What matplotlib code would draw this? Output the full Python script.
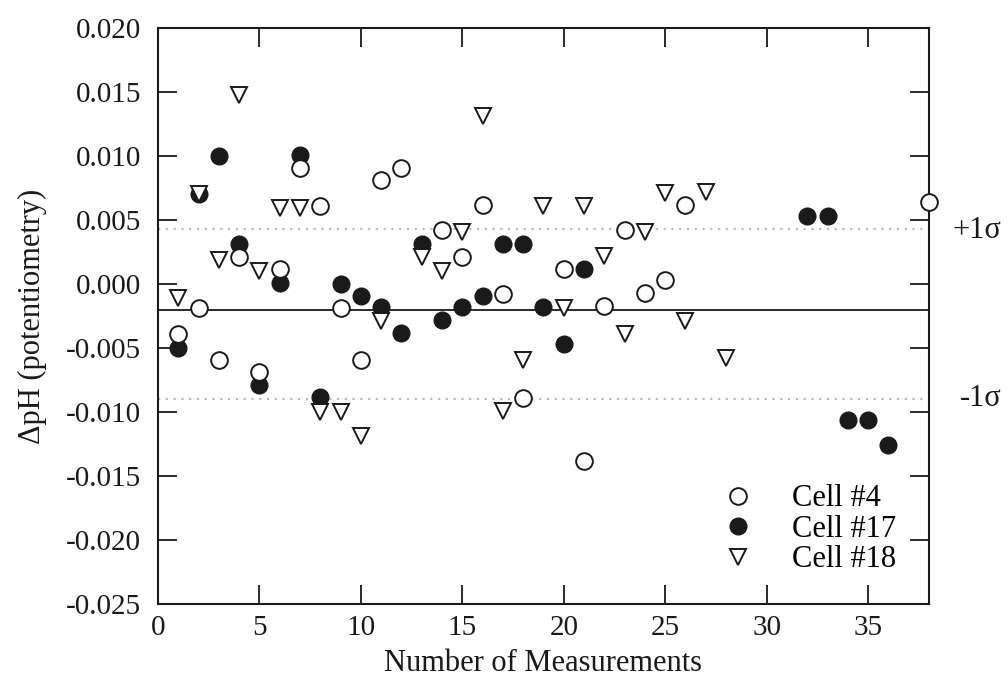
import matplotlib
matplotlib.use("Agg")
import matplotlib.pyplot as plt

cell4_x = [1, 2, 3, 4, 5, 6, 7, 8, 9, 10, 11, 12, 14, 15, 16, 17, 18, 20, 21, 22, 23, 24, 25, 26, 38]
cell4_y = [-0.0039, -0.0019, -0.0059, 0.0021, -0.0069, 0.0012, 0.0091, 0.0061, -0.0019, -0.0059,
           0.0081, 0.0091, 0.0042, 0.0021, 0.0062, -0.0008, -0.0089, 0.0012, -0.0138, -0.0017,
           0.0042, -0.0007, 0.0003, 0.0062, 0.0064]

cell17_x = [1, 2, 3, 4, 5, 6, 7, 8, 9, 10, 11, 12, 13, 14, 15, 16, 17, 18, 19, 20, 21, 32, 33, 34, 35, 36]
cell17_y = [-0.0050, 0.0070, 0.0100, 0.0031, -0.0079, 0.0001, 0.0101, -0.0088, 0.0000, -0.0009,
            -0.0018, -0.0038, 0.0031, -0.0028, -0.0018, -0.0009, 0.0031, 0.0031, -0.0018, -0.0047,
            0.0012, 0.0053, 0.0053, -0.0106, -0.0106, -0.0126]

cell18_x = [1, 2, 3, 4, 5, 6, 7, 8, 9, 10, 11, 13, 14, 15, 16, 17, 18, 19, 20, 21, 22, 23, 24, 25, 26, 27, 28]
cell18_y = [-0.0011, 0.0070, 0.0019, 0.0148, 0.0010, 0.0059, 0.0059, -0.0100, -0.0100, -0.0119,
            -0.0029, 0.0021, 0.0010, 0.0041, 0.0131, -0.0099, -0.0059, 0.0061, -0.0019, 0.0061,
            0.0022, -0.0039, 0.0041, 0.0071, -0.0029, 0.0072, -0.0058]

mean_line = -0.0020
plus_sigma = 0.0043
minus_sigma = -0.0090

xticks = [0, 5, 10, 15, 20, 25, 30, 35]
yticks = [0.020, 0.015, 0.010, 0.005, 0.000, -0.005, -0.010, -0.015, -0.020, -0.025]

# ---- figure ----
plt.rcParams['font.family'] = ['Liberation Serif', 'DejaVu Serif']
ink = '#1a1a1a'
fig = plt.figure(figsize=(10.08, 6.86), dpi=100)
ax = fig.add_axes([0.1567, 0.1195, 0.7649, 0.8397])

ax.axhline(plus_sigma, color='#bbbbbb', ls=(0, (1, 2.5)), lw=1.6, zorder=1)
ax.axhline(minus_sigma, color='#bbbbbb', ls=(0, (1, 2.5)), lw=1.6, zorder=1)
ax.axhline(mean_line, color=ink, lw=1.3, zorder=1)

ax.plot(cell17_x, cell17_y, 'o', ms=12, color=ink, mec=ink, ls='none', label='Cell #17', zorder=3)
ax.plot(cell4_x, cell4_y, 'o', ms=12, mfc='white', mec=ink, mew=1.4, ls='none',
        label='Cell #4', zorder=4, clip_on=False)
ax.plot(cell18_x, cell18_y, 'v', ms=11.5, mfc='white', mec=ink, mew=1.4, ls='none',
        label='Cell #18', zorder=5)

ax.set_xlim(0, 38)
ax.set_ylim(-0.025, 0.020)
ax.set_xticks(xticks)
ax.set_yticks(yticks)
ax.set_yticklabels([f"{v:.3f}" for v in yticks])
ax.tick_params(direction='in', length=14, width=1.3, colors=ink, labelsize=21,
               top=True, right=True)
ax.tick_params(axis='y', pad=12)
ax.tick_params(axis='x', pad=8)
for s in ax.spines.values():
    s.set_linewidth(1.5)
    s.set_color(ink)

ax.set_xlabel('Number of Measurements', fontsize=22, color=ink, labelpad=6)
ax.set_ylabel('ΔpH (potentiometry)', fontsize=22, color=ink, labelpad=14)

ax.text(1.03, 0.649, '+1σ', transform=ax.transAxes, fontsize=22, color=ink, va='center')
ax.text(1.04, 0.357, '-1σ', transform=ax.transAxes, fontsize=22, color=ink, va='center')

h, l = ax.get_legend_handles_labels()
order = [1, 0, 2]
ax.legend([h[i] for i in order], [l[i] for i in order], loc='upper left',
          bbox_to_anchor=(0.733, 0.208), frameon=False, fontsize=22, handlelength=1.0,
          handletextpad=1.27, labelspacing=0.05, borderpad=0, borderaxespad=0)

fig.savefig('out.png', dpi=100)
